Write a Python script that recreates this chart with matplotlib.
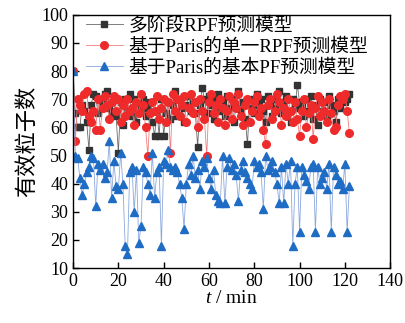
import matplotlib
matplotlib.use("Agg")
import matplotlib.pyplot as plt
import numpy as np

plt.rcParams['font.family'] = ['Liberation Serif', 'Noto Sans CJK SC']
plt.rcParams['mathtext.fontset'] = 'custom'
plt.rcParams['mathtext.it'] = 'Liberation Serif:italic'

# time axis, one sample per minute
t = np.arange(0, 123)

# multi-stage RPF
multi_rpf = [80, 65, 60, 60, 68, 66, 62, 52, 68, 72, 71, 65, 70, 69, 72, 73, 67, 65, 70, 64,
             51, 69, 61, 70, 66, 72, 64, 70, 62, 68, 66, 70, 64, 67, 69, 62, 57, 66, 57, 70,
             57, 65, 69, 63, 68, 73, 64, 70, 67, 62, 68, 71, 66, 69, 65, 53, 68, 74, 70, 65,
             71, 68, 63, 70, 72, 66, 69, 64, 71, 67, 70, 62, 68, 73, 66, 69, 63, 54, 70, 67,
             65, 72, 68, 70, 66, 62, 71, 68, 64, 70, 67, 73, 65, 69, 71, 66, 62, 70, 67, 75,
             69, 68, 64, 70, 66, 71, 63, 68, 61, 70, 66, 69, 64, 71, 68, 66, 62, 70, 67, 71,
             69, 70, 72]

# Paris single RPF
paris_rpf = [80, 55, 70, 68, 66, 72, 73, 64, 62, 66, 59, 70, 59, 67, 71, 68, 63, 69, 71, 66,
             70, 62, 68, 64, 70, 66, 67, 61, 69, 65, 72, 68, 60, 50, 65, 69, 66, 71, 63, 67,
             70, 62, 69, 51, 72, 66, 70, 64, 68, 71, 62, 67, 72, 65, 69, 60, 70, 66, 63, 50,
             69, 72, 65, 68, 62, 70, 67, 61, 66, 71, 63, 69, 67, 72, 64, 61, 68, 70, 62, 66,
             69, 71, 64, 67, 59, 54, 68, 70, 63, 66, 72, 69, 61, 67, 64, 70, 66, 62, 69, 63,
             57, 66, 70, 60, 65, 68, 56, 67, 71, 64, 69, 66, 62, 70, 65, 59, 60, 68, 71, 70,
             72, 66, 58]

# Paris basic PF
paris_pf = [80, 50, 49, 42, 36, 40, 44, 46, 50, 49, 32, 47, 45, 47, 42, 44, 55, 35, 48, 39,
            38, 51, 40, 18, 15, 44, 46, 30, 45, 19, 25, 46, 44, 40, 36, 51, 35, 44, 46, 18,
            48, 47, 52, 46, 45, 46, 44, 40, 35, 24, 40, 47, 43, 50, 42, 45, 38, 48, 46, 49,
            42, 38, 45, 36, 34, 33, 50, 33, 46, 49, 45, 47, 43, 34, 45, 48, 44, 42, 40, 38,
            48, 46, 47, 44, 31, 50, 45, 46, 48, 44, 40, 33, 46, 33, 47, 40, 48, 18, 40, 46,
            23, 46, 43, 41, 38, 46, 47, 23, 46, 40, 42, 44, 38, 47, 23, 46, 43, 40, 41, 38,
            47, 23, 39]

labels = ['多阶段RPF预测模型', '基于Paris的单一RPF预测模型', '基于Paris的基本PF预测模型']

fig = plt.figure(figsize=(4.06, 3.23), dpi=100)
ax = fig.add_axes([0.180, 0.170, 0.781, 0.784])

ax.plot(t, multi_rpf, color='#6a6a6a', lw=0.6, marker='s', ms=5,
        mfc='#333333', mec='#333333', label=labels[0])
ax.plot(t, paris_rpf, color='#f08080', lw=0.6, marker='o', ms=5.5,
        mfc='#ee2a2a', mec='#ee2a2a', label=labels[1])
ax.plot(t, paris_pf, color='#8aa8dd', lw=0.6, marker='^', ms=5.5,
        mfc='#1f6cc4', mec='#1f6cc4', label=labels[2])

ax.set_xlim(0, 140)
ax.set_ylim(10, 100)
ax.set_xticks(range(0, 141, 20))
ax.set_yticks(range(10, 101, 10))
ax.tick_params(direction='in', labelsize=13, length=4, width=1)
for s in ax.spines.values():
    s.set_linewidth(1)

ax.set_xlabel('$t$ / min', fontsize=14, labelpad=0)
ax.set_ylabel('有效粒子数', fontsize=16, labelpad=2)

leg = ax.legend(loc='upper left', frameon=False, fontsize=13.5, handlelength=2.0,
                handletextpad=0.3, labelspacing=0.2, borderaxespad=0.1,
                bbox_to_anchor=(0.01, 1.03))

fig.savefig('out.png', dpi=100)
